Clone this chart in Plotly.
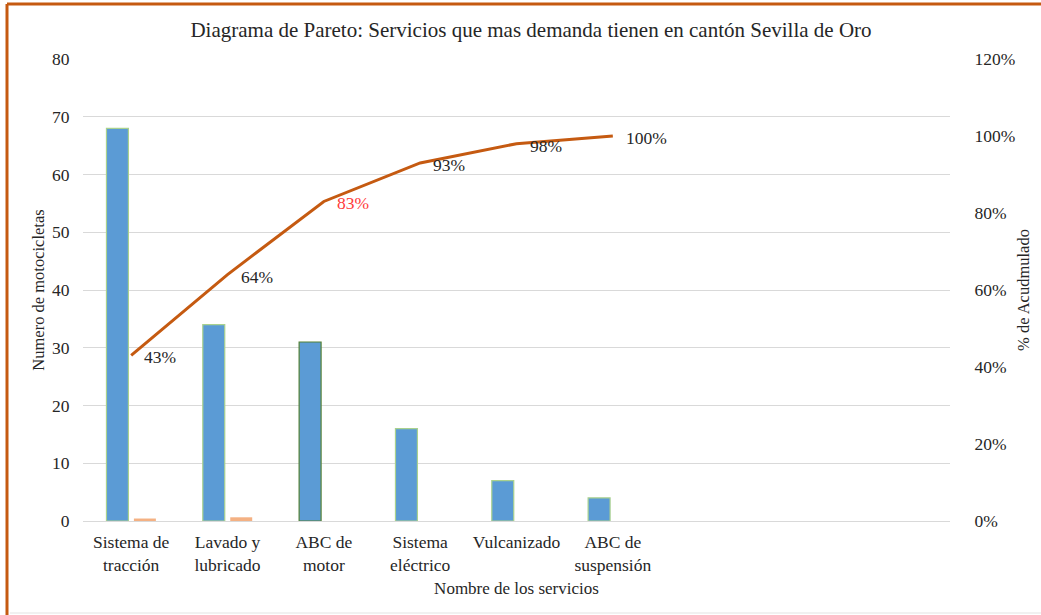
import plotly.graph_objects as go

categories = ["Sistema de<br>tracción", "Lavado y<br>lubricado", "ABC de<br>motor",
              "Sistema<br>eléctrico", "Vulcanizado", "ABC de<br>suspensión"]
blank_slots = [" ", "  ", "   "]
counts = [68, 34, 31, 16, 7, 4]
small_series = [0.43, 0.64, None, None, None, None]
cumulative = [0.43, 0.64, 0.83, 0.93, 0.98, 1.00]
cum_labels = ["43%", "64%", "83%", "93%", "98%", "100%"]
label_colors = ["#262626", "#262626", "#FF3B3B", "#262626", "#262626", "#262626"]
bar_outline = ["#A9D18E", "#A9D18E", "#548235", "#A9D18E", "#A9D18E", "#A9D18E"]

W, H = 1041, 615
L, R, T, B = 83, 91, 59, 94
pw, ph = W - L - R, H - T - B

def px_x(x):
    return (x - L) / pw

def px_y(y):
    return (H - B - y) / ph

FONT = "Times New Roman, Liberation Serif, DejaVu Serif, serif"
TXT = "#262626"
TICK = 17.5

fig = go.Figure()
fig.add_trace(go.Bar(x=categories, y=counts, marker=dict(color="#5B9BD5",
                     line=dict(color=bar_outline, width=1.2)), showlegend=False,
                     hoverinfo="skip"))
fig.add_trace(go.Bar(x=categories, y=small_series, marker=dict(color="#F4B183",
                     line=dict(width=0)), showlegend=False, hoverinfo="skip"))
fig.add_trace(go.Scatter(x=categories, y=cumulative, yaxis="y2", mode="lines",
                         line=dict(color="#C55A11", width=3), showlegend=False,
                         hoverinfo="skip"))

annotations = []
for cat, val, lab, col in zip(categories, cumulative, cum_labels, label_colors):
    annotations.append(dict(x=cat, y=val, xref="x", yref="y2", text=lab, showarrow=False,
                            xanchor="left", yanchor="middle", xshift=11, yshift=-2,
                            font=dict(family=FONT, size=TICK, color=col)))

fig.update_layout(
    width=W, height=H,
    margin=dict(l=L, r=R, t=T, b=B, autoexpand=False),
    paper_bgcolor="white", plot_bgcolor="white",
    barmode="group", bargap=0.43, bargroupgap=0.2,
    font=dict(family=FONT, size=TICK, color=TXT),
    title=dict(text="Diagrama de Pareto: Servicios que mas demanda tienen en cantón Sevilla de Oro",
               x=531 / W, xanchor="center", y=1 - 30 / H, yanchor="middle",
               font=dict(family=FONT, size=21, color=TXT)),
    xaxis=dict(type="category", categoryorder="array",
               categoryarray=categories + blank_slots,
               range=[-0.5, 8.5], showgrid=False, showline=True, linecolor="#D9D9D9",
               linewidth=1, ticks="outside", ticklen=5, tickcolor="rgba(0,0,0,0)",
               tickfont=dict(family=FONT, size=TICK, color=TXT),
               title=dict(text="Nombre de los servicios", standoff=8,
                          font=dict(family=FONT, size=17, color=TXT))),
    yaxis=dict(range=[0, 80], dtick=10, showgrid=True, gridcolor="#D9D9D9", gridwidth=1,
               zeroline=False, showline=False, ticks="outside", ticklen=9,
               tickcolor="rgba(0,0,0,0)", tickfont=dict(family=FONT, size=TICK, color=TXT),
               title=dict(text="Numero de motocicletas", standoff=3,
                          font=dict(family=FONT, size=16.5, color=TXT))),
    yaxis2=dict(overlaying="y", side="right", range=[0, 1.2], dtick=0.2, tickformat=".0%",
                showgrid=False, zeroline=False, showline=False, ticks="outside", ticklen=20,
                tickcolor="rgba(0,0,0,0)", tickfont=dict(family=FONT, size=TICK, color=TXT),
                title=dict(text="% de Acudmulado", standoff=3,
                           font=dict(family=FONT, size=16.5, color=TXT))),
    annotations=annotations,
    shapes=[
        dict(type="line", xref="paper", yref="paper", x0=px_x(7), x1=px_x(W + 5),
             y0=px_y(4), y1=px_y(4), line=dict(color="#C55A11", width=3)),
        dict(type="line", xref="paper", yref="paper", x0=px_x(7), x1=px_x(7),
             y0=px_y(4), y1=px_y(H + 5), line=dict(color="#C55A11", width=3)),
        dict(type="line", xref="paper", yref="paper", x0=px_x(10), x1=px_x(W),
             y0=px_y(613), y1=px_y(613), line=dict(color="#E3E3E3", width=1)),
    ],
)

fig.write_html("out.html", config={"displayModeBar": False},
               post_script="document.body.style.margin='0';document.body.style.overflow='hidden';")
